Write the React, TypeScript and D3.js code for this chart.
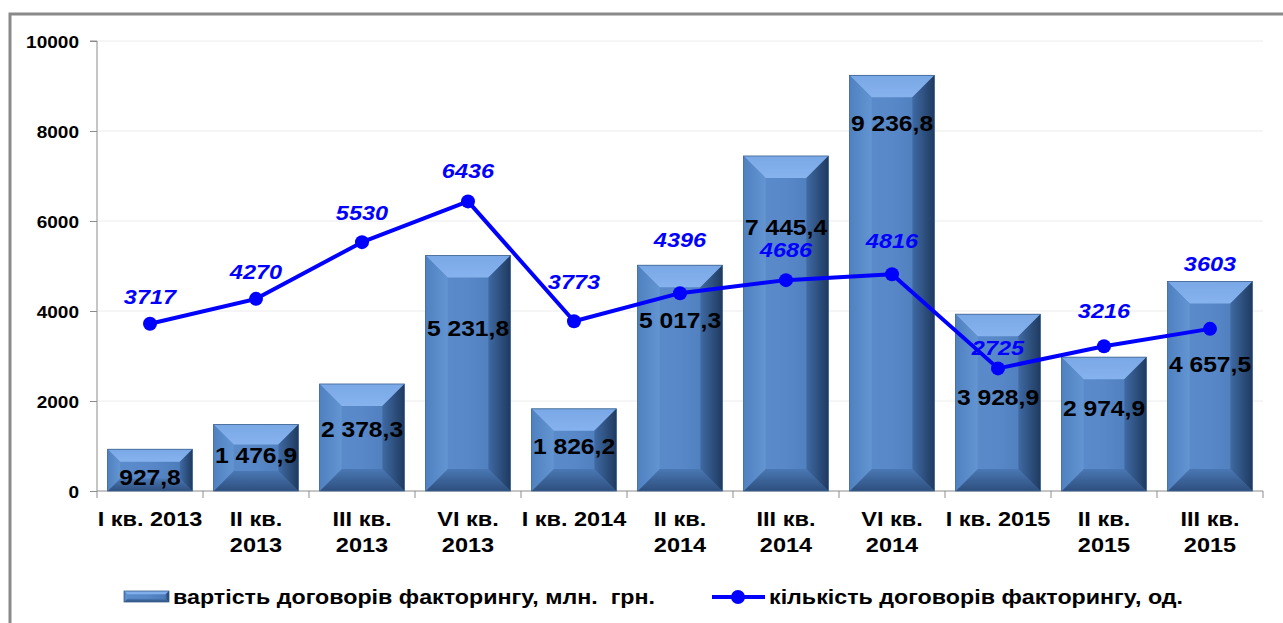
import React, { useEffect, useRef } from 'react';
import * as d3 from 'd3';

// quarters (line breaks inside labels)
const categories = [
  ['I кв. 2013'],
  ['II кв.', '2013'],
  ['III кв.', '2013'],
  ['VI кв.', '2013'],
  ['I кв. 2014'],
  ['II кв.', '2014'],
  ['III кв.', '2014'],
  ['VI кв.', '2014'],
  ['I кв. 2015'],
  ['II кв.', '2015'],
  ['III кв.', '2015'],
];
const contractValue = [927.8, 1476.9, 2378.3, 5231.8, 1826.2, 5017.3, 7445.4, 9236.8, 3928.9, 2974.9, 4657.5];
const contractCount = [3717, 4270, 5530, 6436, 3773, 4396, 4686, 4816, 2725, 3216, 3603];
const valueLabels = ['927,8', '1 476,9', '2 378,3', '5 231,8', '1 826,2', '5 017,3', '7 445,4', '9 236,8', '3 928,9', '2 974,9', '4 657,5'];
// where the labels sit, in axis units (they were placed by hand in the original)
const valueLabelAt = [311, 800, 1378, 3622, 1000, 3800, 5867, 8178, 2089, 1844, 2822];
const countLabelAt = [4311, 4867, 6178, 7111, 4644, 5578, 5356, 5556, 3178, 4000, 5044];
const yTicks = [0, 2000, 4000, 6000, 8000, 10000];
const legendBar = 'вартість договорів факторингу, млн.  грн.';
const legendLine = 'кількість договорів факторингу, од.';

const W = 1283;
const H = 623;
const FONT = '"Liberation Sans", Arial, sans-serif';
const STRETCH = 1.12; // the original picture is a bit wider than it is tall

export default function App() {
  const svgRef = useRef<SVGSVGElement>(null);

  useEffect(() => {
    document.body.style.margin = '0';
    const svg = d3.select(svgRef.current);
    svg.selectAll('*').remove();

    const idx = categories.map((_, i) => String(i));
    const x = d3.scaleBand().domain(idx).range([97, 1263]).padding(0);
    const y = d3.scaleLinear().domain([0, 10000]).range([491, 41]);
    const step = x.step();
    const bw = step * 0.8;
    const cx = (i: number) => (x(String(i)) as number) + step / 2;

    // gradients for the bevelled bars
    const defs = svg.append('defs');
    const grad = (id: string, vertical: boolean, stops: string[]) => {
      const g = defs.append('linearGradient').attr('id', id)
        .attr('x1', 0).attr('y1', 0).attr('x2', vertical ? 0 : 1).attr('y2', vertical ? 1 : 0);
      stops.forEach((c, k) => g.append('stop').attr('offset', `${(k / (stops.length - 1)) * 100}%`).attr('stop-color', c));
    };
    grad('face', false, ['#5b8ccc', '#5888c8', '#4a78b6']);
    grad('rside', false, ['#3f6aa3', '#1f3a60']);
    grad('lside', false, ['#4f80bf', '#6495d3']);
    grad('tside', true, ['#7aa8e6', '#86b3ee']);
    grad('bside', true, ['#4a78b4', '#2e4f7e']);

    svg.append('rect').attr('width', W).attr('height', H).attr('fill', '#fff');
    // outer frame
    svg.append('rect')
      .attr('x', 10).attr('y', 14).attr('width', W + 20).attr('height', H + 20)
      .attr('fill', 'none').attr('stroke', '#8a8a8a').attr('stroke-width', 3);

    // grid
    svg.selectAll('.grid').data(yTicks.filter(t => t > 0)).enter().append('line')
      .attr('x1', 97).attr('x2', 1263)
      .attr('y1', d => y(d)).attr('y2', d => y(d))
      .attr('stroke', '#ececec').attr('stroke-width', 1);

    // y axis
    const yAxis = svg.append('g').attr('transform', 'translate(97,0)')
      .call(d3.axisLeft(y).tickValues(yTicks).tickSize(7).tickFormat(d3.format('d')));
    yAxis.select('.domain').attr('stroke', '#8c8c8c').attr('d', `M-7,${y(10000)}H0V${y(0)}`);
    yAxis.selectAll('.tick line').attr('stroke', '#8c8c8c');
    yAxis.selectAll('.tick text')
      .attr('x', 0).attr('dy', null)
      .attr('transform', `translate(-18,6) scale(${STRETCH},1)`)
      .attr('font-family', FONT).attr('font-size', 17).attr('font-weight', 'bold').attr('fill', '#000');

    // x axis
    svg.append('line').attr('x1', 97).attr('x2', 1263).attr('y1', y(0)).attr('y2', y(0)).attr('stroke', '#8c8c8c');
    d3.range(categories.length + 1).forEach(i => {
      const xx = 97 + i * step;
      svg.append('line').attr('x1', xx).attr('x2', xx).attr('y1', y(0)).attr('y2', y(0) + 7).attr('stroke', '#8c8c8c');
    });

    // bars
    const drawBar = (g: any, x0: number, y0: number, w: number, h: number) => {
      const b = Math.min(22, h * 0.3, w * 0.3);
      const x1 = x0 + w;
      const y1 = y0 + h;
      const poly = (pts: number[][], fill: string) =>
        g.append('polygon').attr('points', pts.map(p => p.join(',')).join(' ')).attr('fill', fill);
      poly([[x0, y0], [x1, y0], [x1, y1], [x0, y1]], 'url(#face)');
      poly([[x0, y0], [x1, y0], [x1 - b, y0 + b], [x0 + b, y0 + b]], 'url(#tside)');
      poly([[x0, y1], [x1, y1], [x1 - b, y1 - b], [x0 + b, y1 - b]], 'url(#bside)');
      poly([[x0, y0], [x0 + b, y0 + b], [x0 + b, y1 - b], [x0, y1]], 'url(#lside)');
      poly([[x1, y0], [x1 - b, y0 + b], [x1 - b, y1 - b], [x1, y1]], 'url(#rside)');
      g.append('rect').attr('x', x0).attr('y', y0).attr('width', w).attr('height', h)
        .attr('fill', 'none').attr('stroke', '#3d638f').attr('stroke-width', 0.8);
    };
    const bars = svg.append('g');
    contractValue.forEach((v, i) => {
      const x0 = (x(String(i)) as number) + (step - bw) / 2;
      drawBar(bars.append('g'), x0, y(v), bw, y(0) - y(v));
    });

    // bar value labels
    svg.selectAll('.vlab').data(valueLabels).enter().append('text')
      .attr('transform', (_, i) => `translate(${cx(i)},${y(valueLabelAt[i])}) scale(${STRETCH},1)`)
      .attr('dy', '0.35em')
      .attr('text-anchor', 'middle')
      .attr('font-family', FONT).attr('font-size', 22).attr('font-weight', 'bold').attr('fill', '#000')
      .text(d => d);

    // count line
    const line = d3.line<number>()
      .x((_, i) => cx(i))
      .y(d => y(d));
    svg.append('path').datum(contractCount).attr('d', line)
      .attr('fill', 'none').attr('stroke', '#0000ff').attr('stroke-width', 4).attr('stroke-linejoin', 'round');
    svg.selectAll('.dot').data(contractCount).enter().append('circle')
      .attr('cx', (_, i) => cx(i))
      .attr('cy', d => y(d)).attr('r', 7).attr('fill', '#0000ff');
    svg.selectAll('.clab').data(contractCount).enter().append('text')
      .attr('transform', (_, i) => `translate(${cx(i)},${y(countLabelAt[i])}) scale(${STRETCH},1)`)
      .attr('dy', '0.35em')
      .attr('text-anchor', 'middle')
      .attr('font-family', FONT).attr('font-size', 21).attr('font-weight', 'bold').attr('font-style', 'italic')
      .attr('fill', '#0000ff')
      .text(d => String(d));

    // category labels
    categories.forEach((lines, i) => {
      lines.forEach((l, j) => {
        svg.append('text')
          .attr('transform', `translate(${cx(i)},${526 + j * 26}) scale(${STRETCH},1)`)
          .attr('text-anchor', 'middle')
          .attr('font-family', FONT).attr('font-size', 21).attr('font-weight', 'bold').attr('fill', '#000')
          .text(l);
      });
    });

    // legend
    const lg = svg.append('g');
    drawBar(lg.append('g'), 124, 591, 45, 11);
    lg.append('text').attr('x', 173).attr('y', 604)
      .attr('font-family', FONT).attr('font-size', 20).attr('font-weight', 'bold').attr('fill', '#000')
      .attr('textLength', 482).attr('lengthAdjust', 'spacingAndGlyphs')
      .style('white-space', 'pre')
      .text(legendBar);
    lg.append('line').attr('x1', 712).attr('x2', 765).attr('y1', 597).attr('y2', 597)
      .attr('stroke', '#0000ff').attr('stroke-width', 4);
    lg.append('circle').attr('cx', 738).attr('cy', 597).attr('r', 7).attr('fill', '#0000ff');
    lg.append('text').attr('x', 769).attr('y', 604)
      .attr('font-family', FONT).attr('font-size', 20).attr('font-weight', 'bold').attr('fill', '#000')
      .attr('textLength', 414).attr('lengthAdjust', 'spacingAndGlyphs')
      .text(legendLine);
  }, []);

  return <svg ref={svgRef} width={W} height={H} style={{ display: 'block' }} />;
}
